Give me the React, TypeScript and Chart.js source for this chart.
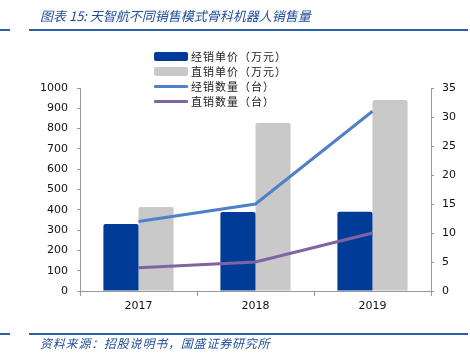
import React, { useEffect, useRef } from "react";
import { Chart, registerables } from "chart.js";

Chart.register(...registerables);

const categories = ["2017", "2018", "2019"];
const distributorPrice = [330, 389, 390];
const directPrice = [414, 828, 941];
const distributorQty = [12, 15, 31];
const directQty = [4, 5, 10];

const seriesNames = ["经销单价（万元）", "直销单价（万元）", "经销数量（台）", "直销数量（台）"];
const titleText = "图表 15:  天智航不同销售模式骨科机器人销售量";
const sourceText = "资料来源：招股说明书，国盛证券研究所";

const COLORS = ["#003C97", "#C9C9C9", "#4F81C8", "#8064A2"];
const TICK_FONT = { family: "'DejaVu Sans', Verdana, sans-serif", size: 11 };

export default function App() {
  const canvasRef = useRef<HTMLCanvasElement | null>(null);

  useEffect(() => {
    const ctx = canvasRef.current!;
    const chart = new Chart(ctx, {
      type: "bar",
      data: {
        labels: categories,
        datasets: [
          {
            type: "bar",
            label: seriesNames[0],
            data: distributorPrice,
            backgroundColor: COLORS[0],
            yAxisID: "y",
            order: 2,
            borderRadius: 2,
            borderSkipped: "bottom",
            categoryPercentage: 0.6,
            barPercentage: 1,
          },
          {
            type: "bar",
            label: seriesNames[1],
            data: directPrice,
            backgroundColor: COLORS[1],
            yAxisID: "y",
            order: 2,
            borderRadius: 2,
            borderSkipped: "bottom",
            categoryPercentage: 0.6,
            barPercentage: 1,
          },
          {
            type: "line",
            label: seriesNames[2],
            data: distributorQty,
            borderColor: COLORS[2],
            backgroundColor: COLORS[2],
            borderWidth: 3,
            pointRadius: 0,
            yAxisID: "y1",
            order: 1,
            tension: 0,
          },
          {
            type: "line",
            label: seriesNames[3],
            data: directQty,
            borderColor: COLORS[3],
            backgroundColor: COLORS[3],
            borderWidth: 3,
            pointRadius: 0,
            yAxisID: "y1",
            order: 1,
            tension: 0,
          },
        ],
      },
      options: {
        animation: false,
        responsive: false,
        maintainAspectRatio: false,
        layout: { padding: { top: 88, left: 0, right: 0, bottom: 0 } },
        plugins: { legend: { display: false }, tooltip: { enabled: false }, title: { display: false } },
        scales: {
          x: {
            offset: true,
            grid: { display: true, drawOnChartArea: false, drawTicks: true, tickLength: 5, offset: true, color: "#999" },
            border: { display: true, color: "#999" },
            ticks: { color: "#111", font: TICK_FONT, padding: 4 },
            afterFit: (s: any) => { s.height = 66; },
          },
          y: {
            position: "left",
            min: 0,
            max: 1000,
            grid: { display: true, drawOnChartArea: false, drawTicks: true, tickLength: 3, color: "#999" },
            border: { display: true, color: "#999" },
            ticks: { stepSize: 100, color: "#111", font: TICK_FONT, padding: 9, callback: (v: any) => String(v) },
            afterFit: (s: any) => { s.width = 80; },
          },
          y1: {
            position: "right",
            min: 0,
            max: 35,
            grid: { display: true, drawOnChartArea: false, drawTicks: true, tickLength: 3, color: "#999" },
            border: { display: true, color: "#999" },
            ticks: { stepSize: 5, color: "#111", font: TICK_FONT, padding: 8, callback: (v: any) => String(v) },
            afterFit: (s: any) => { s.width = 39; },
          },
        },
      },
    });
    return () => chart.destroy();
  }, []);

  const ruleColor = "#2F5EA8";
  const cjk = "'Noto Sans CJK SC', 'Noto Sans', sans-serif";

  return (
    <div style={{ position: "absolute", left: 0, top: 0, width: 470, height: 357, background: "#fff", overflow: "hidden" }}>
      <canvas ref={canvasRef} width={470} height={357} style={{ position: "absolute", left: 0, top: 0, width: 470, height: 357 }} />
      <div style={{ position: "absolute", left: 40, top: 6, fontFamily: cjk, fontSize: 13, fontStyle: "italic", color: "#1F4E9A", whiteSpace: "nowrap", lineHeight: "20px" }}>
        {titleText}
      </div>
      <div style={{ position: "absolute", left: 0, top: 29, width: 10, height: 2, background: ruleColor }} />
      <div style={{ position: "absolute", left: 29, top: 29, width: 439, height: 2, background: ruleColor }} />
      <div style={{ position: "absolute", left: 0, top: 333, width: 10, height: 2, background: ruleColor }} />
      <div style={{ position: "absolute", left: 29, top: 333, width: 439, height: 2, background: ruleColor }} />
      <div style={{ position: "absolute", left: 40, top: 334, fontFamily: cjk, fontSize: 12, fontStyle: "italic", color: "#1F4E9A", whiteSpace: "nowrap", lineHeight: "18px", letterSpacing: "0.8px" }}>
        {sourceText}
      </div>
      {seriesNames.map((name, i) => (
        <div key={name} style={{ position: "absolute", left: 154, top: 49 + i * 15, height: 15, display: "flex", alignItems: "center", whiteSpace: "nowrap" }}>
          <div style={{ width: 34, height: i < 2 ? 9 : 3, background: COLORS[i], borderRadius: i < 2 ? 2 : 1 }} />
          <span style={{ marginLeft: 3, fontFamily: cjk, fontSize: 11, color: "#222", lineHeight: "15px", letterSpacing: "1px" }}>{name}</span>
        </div>
      ))}
    </div>
  );
}
